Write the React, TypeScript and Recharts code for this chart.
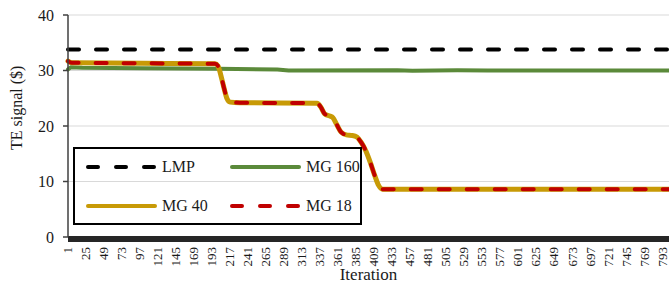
import { LineChart, Line, XAxis, YAxis, CartesianGrid } from "recharts";

const FONT = '"Liberation Serif", "Times New Roman", Times, serif';

// iteration / value readings for each series
const LMP_ITER = [1, 802];
const LMP_VAL = [33.8, 33.8];

const MG160_ITER = [1, 5, 20, 100, 200, 280, 295, 440, 460, 520, 560, 802];
const MG160_VAL = [30.2, 30.6, 30.5, 30.4, 30.3, 30.2, 30.0, 30.05, 29.95, 30.05, 30.0, 30.0];

const MG40_ITER = [1, 6, 100, 197, 201, 205, 209, 213, 217, 230, 333, 338, 343, 350, 354, 359, 365, 372, 380, 386, 392, 398, 404, 410, 415, 420, 802];
const MG40_VAL = [31.7, 31.4, 31.3, 31.2, 30.8, 29.0, 26.8, 24.9, 24.3, 24.2, 24.1, 23.4, 22.2, 21.8, 21.5, 20.3, 18.9, 18.4, 18.3, 18.0, 17.0, 15.5, 13.4, 11.0, 9.3, 8.6, 8.6];

const MG18_ITER = [1, 6, 100, 197, 201, 205, 209, 213, 217, 230, 333, 338, 343, 350, 354, 359, 365, 372, 380, 386, 392, 398, 404, 410, 415, 420, 802];
const MG18_VAL = [31.7, 31.4, 31.3, 31.2, 30.8, 29.0, 26.8, 24.9, 24.3, 24.2, 24.1, 23.4, 22.2, 21.8, 21.5, 20.3, 18.9, 18.4, 18.3, 18.0, 17.0, 15.5, 13.4, 11.0, 9.3, 8.6, 8.6];

const X_TICKS = [1, 25, 49, 73, 97, 121, 145, 169, 193, 217, 241, 265, 289, 313, 337, 361, 385, 409, 433, 457, 481, 505, 529, 553, 577, 601, 625, 649, 673, 697, 721, 745, 769, 793];
const Y_TICKS = [0, 10, 20, 30, 40];

const toPoints = (iters: number[], vals: number[]) => iters.map((it, i) => ({ it, v: vals[i] }));

const SERIES = [
  { name: "LMP", data: toPoints(LMP_ITER, LMP_VAL), color: "#000000", width: 4, dash: "11 17", type: "linear" },
  { name: "MG 160", data: toPoints(MG160_ITER, MG160_VAL), color: "#5B8A3A", width: 4, dash: undefined, type: "linear" },
  { name: "MG 40", data: toPoints(MG40_ITER, MG40_VAL), color: "#C89A06", width: 5, dash: undefined, type: "monotone" },
  { name: "MG 18", data: toPoints(MG18_ITER, MG18_VAL), color: "#C00000", width: 4, dash: "11 17", type: "monotone" },
];

// legend order: row 1 LMP / MG 160, row 2 MG 40 / MG 18
const LEGEND_SLOTS = [
  { x: 13, y: 20 },
  { x: 157, y: 20 },
  { x: 13, y: 59 },
  { x: 157, y: 59 },
];

const XTick = (props: any) => {
  const { x, y, payload } = props;
  return (
    <g transform={`translate(${x},${y})`}>
      <text transform="rotate(-90)" textAnchor="end" dy="0.33em" fontSize={13} fill="#1a1a1a">
        {payload.value}
      </text>
    </g>
  );
};

function ChartLegend() {
  return (
    <div
      style={{
        position: "absolute",
        left: 73,
        top: 147,
        width: 289,
        height: 78,
        border: "2px solid #000",
        boxSizing: "border-box",
      }}
    >
      <svg width={289} height={78} style={{ position: "absolute", left: -2, top: -2 }}>
        {SERIES.map((s, i) => {
          const p = LEGEND_SLOTS[i];
          return (
            <g key={s.name}>
              <line
                x1={p.x + 2}
                x2={p.x + 69}
                y1={p.y}
                y2={p.y}
                stroke={s.color}
                strokeWidth={4}
                strokeDasharray={s.dash ? "10 18" : undefined}
                strokeLinecap="round"
              />
              <text x={p.x + 76} y={p.y} dy="0.33em" fontSize={16} fill="#1a1a1a">
                {s.name}
              </text>
            </g>
          );
        })}
      </svg>
    </div>
  );
}

export default function App() {
  return (
    <div style={{ position: "absolute", left: 0, top: 0, width: 669, height: 284, background: "#fff", fontFamily: FONT }}>
      <style>{`svg text { font-family: ${FONT} !important; }`}</style>
      <LineChart width={669} height={284} margin={{ top: 15, right: 0, bottom: 0, left: 0 }}>
        <CartesianGrid vertical={false} stroke="#d9d9d9" strokeWidth={1.2} />
        <XAxis
          type="number"
          dataKey="it"
          domain={[1, 802]}
          ticks={X_TICKS}
          interval={0}
          height={47}
          tickLine={false}
          tickSize={10}
          tickMargin={0}
          tick={<XTick />}
          axisLine={{ stroke: "#262626", strokeWidth: 6, transform: "translate(0,2)" }}
          label={{ value: "Iteration", position: "insideBottom", offset: 4, fontSize: 17, fill: "#1a1a1a" }}
        />
        <YAxis
          type="number"
          domain={[0, 40]}
          ticks={Y_TICKS}
          width={68}
          tickSize={5}
          tickMargin={9}
          tick={{ fontSize: 16, fill: "#1a1a1a" }}
          axisLine={{ stroke: "#404040", strokeWidth: 1.5 }}
          tickLine={{ stroke: "#404040", strokeWidth: 1.5 }}
          label={{ value: "TE signal ($)", angle: -90, position: "insideLeft", offset: 16, dy: 24, fontSize: 16, fill: "#1a1a1a" }}
        />
        {SERIES.map((s) => (
          <Line
            key={s.name}
            data={s.data}
            dataKey="v"
            name={s.name}
            type={s.type as any}
            stroke={s.color}
            strokeWidth={s.width}
            strokeDasharray={s.dash}
            strokeLinecap="round"
            dot={false}
            activeDot={false}
            isAnimationActive={false}
          />
        ))}
      </LineChart>
      <ChartLegend />
    </div>
  );
}
